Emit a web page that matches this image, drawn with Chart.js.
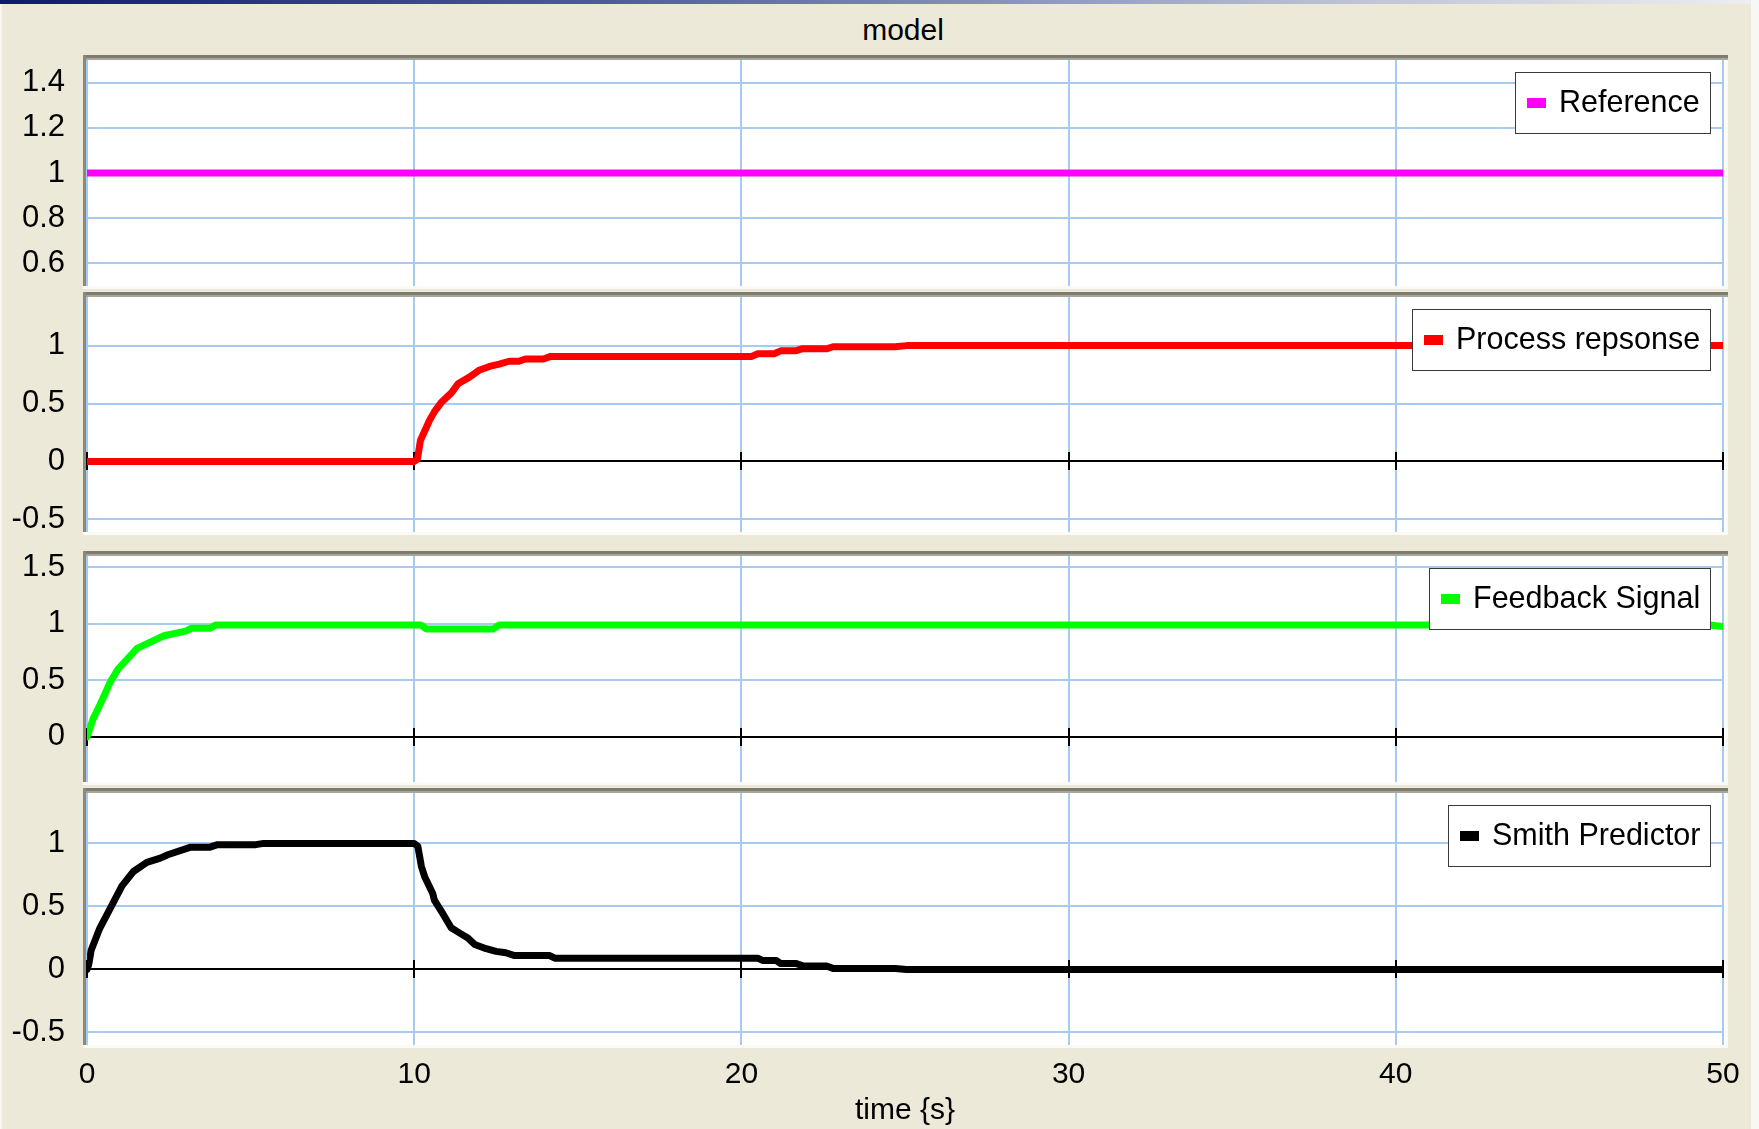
<!DOCTYPE html>
<html>
<head>
<meta charset="utf-8">
<title>model</title>
<script src="https://cdn.jsdelivr.net/npm/chart.js@4.4.1/dist/chart.umd.min.js"></script>
<style>
  html, body { margin: 0; padding: 0; }
  body {
    width: 1759px; height: 1129px; position: relative; overflow: hidden;
    background: #ECE9D8;
    font-family: "Liberation Sans", Arial, sans-serif;
  }
  #titlebar {
    position: absolute; left: 0; top: 0; width: 1759px; height: 4px;
    background: linear-gradient(to right, #0C1A6B 0%, #4E5E9C 35%, #B9BFD3 75%, #EEEEF2 100%);
  }
  #leftedge { position: absolute; left: 0; top: 4px; width: 2px; height: 1125px; background: #F6F5EF; }
  #rightedge { position: absolute; left: 1751px; top: 0; width: 8px; height: 1129px; background: #F7F7F3; }
  #title {
    position: absolute; left: 903px; top: 12px; transform: translateX(-50%);
    font-size: 30px; line-height: 36px; color: #000; white-space: nowrap;
  }
  canvas.panel { position: absolute; left: 0; top: 0; }
</style>
</head>
<body>
<div id="titlebar"></div>
<div id="leftedge"></div>
<div id="rightedge"></div>
<div id="title">model</div>
<canvas class="panel" id="panel0" width="1759" height="1129"></canvas>
<canvas class="panel" id="panel1" width="1759" height="1129"></canvas>
<canvas class="panel" id="panel2" width="1759" height="1129"></canvas>
<canvas class="panel" id="panel3" width="1759" height="1129"></canvas>
<script>
// ---- data ----
const timeTicks = [0, 10, 20, 30, 40, 50];
const timeTitle = 'time {s}';

const refTime = [0, 50];
const refValues = [1, 1];

const procTime = [0, 10.0, 10.1, 10.19, 10.47, 10.62, 10.83, 11.13, 11.34, 11.7, 12.0, 12.3, 12.6, 12.9, 13.2,
  13.4, 13.95, 14.15, 20.3, 20.5, 21.0, 21.2, 21.65, 21.85, 22.6, 22.8, 24.7, 25.05, 50];
const procValues = [0, 0, 0.02, 0.18, 0.355, 0.43, 0.51, 0.59, 0.67, 0.73, 0.79, 0.82, 0.84, 0.865, 0.865,
  0.885, 0.885, 0.905, 0.905, 0.93, 0.93, 0.955, 0.955, 0.972, 0.972, 0.99, 0.99, 1, 1];

const fbTime = [0, 0.05, 0.19, 0.39, 0.71, 0.95, 1.42, 1.53, 2.35, 3.05, 3.18, 3.76, 3.93, 10.2, 10.37,
  12.42, 12.6, 49.6, 50];
const fbValues = [0, 0.044, 0.161, 0.279, 0.484, 0.6, 0.748, 0.783, 0.894, 0.938, 0.96, 0.96, 0.99, 0.99, 0.955,
  0.955, 0.99, 0.99, 0.975];

const smithTime = [0, 0.05, 0.13, 0.39, 0.71, 1.07, 1.42, 1.83, 2.24, 2.47, 3.17, 3.76, 3.99, 5.16, 5.4,
  10.0, 10.11, 10.22, 10.32, 10.57, 10.62, 10.88, 11.13, 11.38, 11.64, 11.85, 12.2, 12.5, 12.8, 13.07,
  14.14, 14.3, 20.5, 20.66, 21.07, 21.2, 21.68, 21.9, 22.6, 22.8, 24.7, 25.05, 50];
const smithValues = [0, 0.034, 0.154, 0.326, 0.485, 0.663, 0.777, 0.849, 0.883, 0.91, 0.97, 0.97, 0.99, 0.99, 1,
  1, 0.978, 0.817, 0.736, 0.6, 0.547, 0.44, 0.33, 0.29, 0.25, 0.197, 0.164, 0.143, 0.132, 0.11,
  0.11, 0.089, 0.089, 0.07, 0.07, 0.046, 0.046, 0.027, 0.027, 0.008, 0.008, 0, 0];

const refTicks = [0.6, 0.8, 1, 1.2, 1.4];
const procTicks = [-0.5, 0, 0.5, 1];
const fbTicks = [0, 0.5, 1, 1.5];
const smithTicks = [-0.5, 0, 0.5, 1];

// ---- layout and style ----
const W = 1759, H = 1129;
const PLOT_LEFT = 87, PLOT_RIGHT = 1723;
const GRID = '#A6CAF0';
const FONT = '"Liberation Sans", Arial, sans-serif';
Chart.defaults.font.family = FONT;
Chart.defaults.color = '#000';

const panels = [
  { canvas: 'panel0', label: 'Reference', color: '#FF00FF', time: refTime, values: refValues,
    ticks: refTicks, min: 0.5, max: 1.5, top: 60, bottom: 286 },
  { canvas: 'panel1', label: 'Process repsonse', color: '#FF0000', time: procTime, values: procValues,
    ticks: procTicks, min: -0.61, max: 1.42, top: 297, bottom: 532 },
  { canvas: 'panel2', label: 'Feedback Signal', color: '#00FF00', time: fbTime, values: fbValues,
    ticks: fbTicks, min: -0.40, max: 1.60, top: 556, bottom: 782 },
  { canvas: 'panel3', label: 'Smith Predictor', color: '#000000', time: smithTime, values: smithValues,
    ticks: smithTicks, min: -0.60, max: 1.40, top: 793, bottom: 1045 }
];

// sunken white plotting box behind each panel
const panelFrame = {
  id: 'panelFrame',
  beforeDraw(chart) {
    const { left: L, top: T, right: R, bottom: B } = chart.chartArea;
    const ctx = chart.ctx;
    ctx.save();
    ctx.fillStyle = '#FAFAF6';
    ctx.fillRect(L - 4, B, R - L + 9, 3);
    ctx.fillRect(R + 3, T - 5, 2, B - T + 8);
    ctx.fillStyle = '#FFFFFF';
    ctx.fillRect(L - 1, T, R - L + 4, B - T);
    ctx.fillStyle = '#7D7C71';
    ctx.fillRect(L - 4, T - 5, R - L + 9, 3);
    ctx.fillStyle = '#A8A699';
    ctx.fillRect(L - 4, T - 2, R - L + 9, 2);
    ctx.fillStyle = '#8A897E';
    ctx.fillRect(L - 4, T - 5, 3, B - T + 5);
    ctx.restore();
  }
};

// black zero axis with tick marks at every time tick
const zeroAxis = {
  id: 'zeroAxis',
  beforeDatasetsDraw(chart) {
    const xs = chart.scales.x, ys = chart.scales.y;
    if (ys.min > 0 || ys.max < 0) return;
    const a = chart.chartArea, ctx = chart.ctx;
    const py = Math.round(ys.getPixelForValue(0));
    ctx.save();
    ctx.fillStyle = '#000';
    ctx.fillRect(a.left, py - 1, a.right - a.left, 2);
    xs.ticks.forEach(t => {
      const px = Math.round(xs.getPixelForValue(t.value));
      ctx.fillRect(px - 1, py - 9, 2, 18);
    });
    ctx.restore();
  }
};

// boxed legend in the upper right corner of each panel
const boxLegend = {
  id: 'boxLegend',
  afterDatasetsDraw(chart) {
    const ds = chart.data.datasets[0];
    const a = chart.chartArea, ctx = chart.ctx;
    ctx.save();
    ctx.font = '30.5px ' + FONT;
    const tw = ctx.measureText(ds.label).width;
    const w = Math.round(12 + 19 + 13 + tw + 11), h = 62;
    const right = a.right - 12, left = right - w, top = a.top + 12;
    ctx.fillStyle = '#FFFFFF';
    ctx.fillRect(left, top, w, h);
    ctx.strokeStyle = '#3A3A3A';
    ctx.lineWidth = 1;
    ctx.strokeRect(left + 0.5, top + 0.5, w - 1, h - 1);
    ctx.fillStyle = ds.borderColor;
    ctx.fillRect(left + 12, top + 26, 19, 10);
    ctx.fillStyle = '#000';
    ctx.textBaseline = 'middle';
    ctx.textAlign = 'left';
    ctx.fillText(ds.label, left + 44, top + h / 2 + 1);
    ctx.restore();
  }
};

panels.forEach((p, i) => {
  const last = i === panels.length - 1;
  new Chart(document.getElementById(p.canvas), {
    type: 'line',
    data: {
      datasets: [{
        label: p.label,
        data: p.time.map((t, k) => ({ x: t, y: p.values[k] })),
        borderColor: p.color,
        backgroundColor: p.color,
        borderWidth: 7,
        pointRadius: 0,
        tension: 0,
        fill: false,
        borderCapStyle: 'round',
        borderJoinStyle: 'round'
      }]
    },
    options: {
      responsive: false,
      animation: false,
      events: [],
      layout: { padding: { top: p.top, left: 0, right: W - PLOT_RIGHT, bottom: last ? 0 : H - p.bottom } },
      plugins: { legend: { display: false }, tooltip: { enabled: false }, title: { display: false } },
      scales: {
        x: {
          type: 'linear', min: 0, max: 50,
          afterBuildTicks: s => { s.ticks = timeTicks.map(v => ({ value: v })); },
          afterFit: s => { s.height = last ? H - p.bottom : 0; },
          grid: { color: GRID, lineWidth: 2, drawTicks: false },
          border: { display: false },
          ticks: { display: last, padding: 12, maxRotation: 0, autoSkip: false,
                   font: { size: 30 }, color: '#000', callback: v => String(v) },
          title: { display: last, text: timeTitle, font: { size: 30 }, color: '#000',
                   padding: { top: 0, bottom: 0 } }
        },
        y: {
          type: 'linear', min: p.min, max: p.max,
          afterBuildTicks: s => { s.ticks = p.ticks.map(v => ({ value: v })); },
          afterFit: s => { s.width = PLOT_LEFT; },
          grid: { color: c => (c.tick && c.tick.value === 0) ? 'rgba(0,0,0,0)' : GRID,
                  lineWidth: 2, drawTicks: false },
          border: { display: false },
          ticks: { padding: 22, font: { size: 31 }, color: '#000', callback: v => String(v) }
        }
      }
    },
    plugins: [panelFrame, zeroAxis, boxLegend]
  });
});
</script>
</body>
</html>
